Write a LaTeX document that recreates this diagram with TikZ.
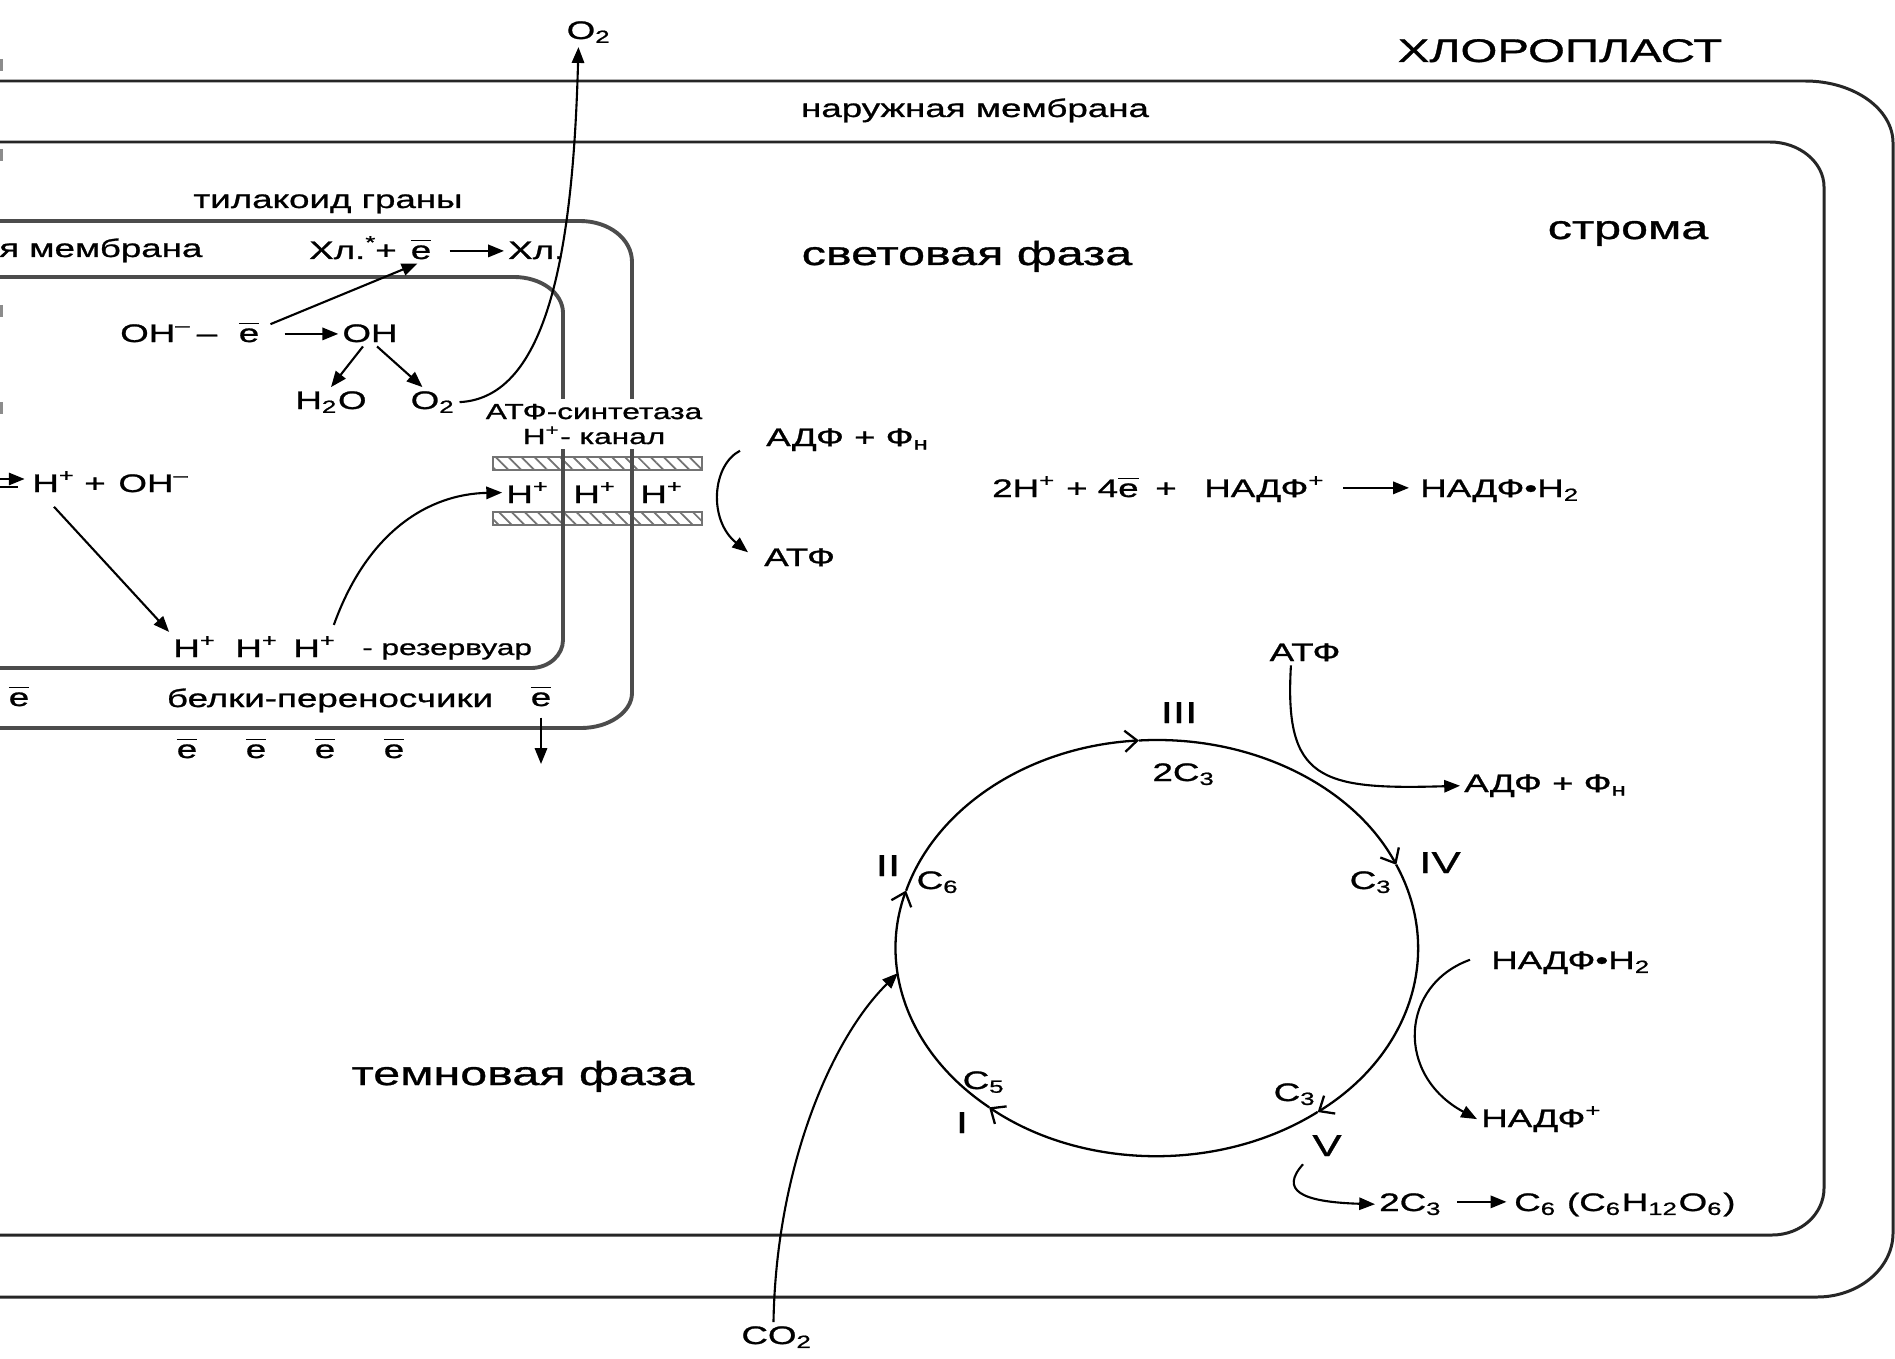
\documentclass[tikz,border=0pt]{standalone}
\usepackage{fontspec}
\setmainfont{Liberation Sans}[FakeStretch=1.45, FakeBold=1]
\usetikzlibrary{arrows.meta,patterns.meta}
\newcommand\el{\ensuremath{\overline{\mbox{e}}}}
\newcommand\sps[1]{\textsuperscript{#1}}
\newcommand\sbs[1]{\textsubscript{#1}}
\begin{document}
\begin{tikzpicture}[x=0.01cm,y=-0.01cm,
  tL/.style={font=\fontsize{9.5}{11}\selectfont, inner sep=1pt},
  tM/.style={font=\fontsize{7.2}{8.6}\selectfont, inner sep=1pt},
  tS/.style={font=\fontsize{6.2}{7.4}\selectfont, inner sep=1pt},
  tR/.style={font=\fontsize{8.6}{10}\selectfont, inner sep=1pt},
  mem/.style={line width=0.85pt, black!85},
  thy/.style={line width=1.1pt, black!70},
  rx/.style={line width=0.6pt, -{Triangle[length=4.5pt,width=3.5pt]}},
  cyc/.style={line width=0.65pt, -{Straight Barb[length=3.5pt,width=6pt]}},
  bar/.style={draw=black!55, line width=0.5pt, pattern={Lines[angle=-45,distance=2.6pt,line width=0.5pt]}, pattern color=black!55},
  tick/.style={line width=1.3pt, black!45}
]
\useasboundingbox (0,0) rectangle (1895,1358);
\fill[white] (0,0) rectangle (1895,1358);

% left-edge fragments
\foreach \yy in {65,155,311,408} \draw[tick] (1,\yy-6) -- (1,\yy+6);

% chloroplast membranes
\draw[mem] (-20,81) -- (1805,81) .. controls (1854,81) and (1893,109) .. (1893,143)
  -- (1893,1233) .. controls (1893,1268) and (1859,1297) .. (1817,1297) -- (-20,1297);
\draw[mem] (-20,142) -- (1770,142) .. controls (1799,142) and (1824,162) .. (1824,187)
  -- (1824,1188) .. controls (1824,1214) and (1801,1235) .. (1772,1235) -- (-20,1235);

% ATP synthase bars
\draw[bar] (493,457) rectangle (702,470);
\draw[bar] (493,512) rectangle (702,525);

% thylakoid
\draw[thy] (-20,221) -- (580,221) .. controls (609,221) and (632,239) .. (632,262)
  -- (632,693) .. controls (632,712) and (609,728) .. (581,728) -- (-20,728);
\draw[thy] (-20,277) -- (514,277) .. controls (541,277) and (563,293) .. (563,313)
  -- (563,640) .. controls (563,655) and (549,668) .. (531,668) -- (-20,668);

% ATP synthase label (covers the membrane lines)
\node[tS, anchor=base, align=center, fill=white, inner sep=1.5pt] (syn) at (594,444) {АТФ-синтетаза\\[-0.3pt]H\sps{+}- канал};

% labels
\node[tL, anchor=base, font=\fontsize{9.3}{11}\selectfont] (chl) at (1560,62) {ХЛОРОПЛАСТ};
\node[tM, anchor=base] (outer) at (975,117) {наружная мембрана};
\node[tL, anchor=base] (stroma) at (1628,239) {строма};
\node[tL, anchor=base] (light) at (967,265) {световая фаза};
\node[tL, anchor=base] (dark) at (523,1085) {темновая фаза};
\node[tM, anchor=base] (granum) at (328,208) {тилакоид граны};
\node[tM, anchor=base west] (thmem) at (-5,257) {я мембрана};

% chlorophyll line
\node[tM, anchor=base west] (chla) at (305,259) {Хл.\sps{*}};
\node[tM, anchor=base] (pl1) at (386,259) {+};
\node[tM, anchor=base] (e1) at (421,259) {\el};
\node[tM, anchor=base west] (chlb) at (504,259) {Хл.};
\draw[rx] ([shift={(4pt,2.3pt)}]e1.base east) -- ([shift={(0pt,2.3pt)}]chlb.base west);

% water splitting
\node[tM, anchor=base west] (oh1) at (116,342) {OH\sps{–}};
\node[tM, anchor=base] (mn) at (207,342) {–};
\node[tM, anchor=base] (e2) at (249,342) {\el};
\node[tM, anchor=base] (oh2) at (370,342) {OH};
\draw[rx] ([shift={(6pt,2.3pt)}]e2.base east) -- ([shift={(0pt,2.3pt)}]oh2.base west);
\draw[rx] ([shift={(2pt,-2pt)}]e2.north east) -- ([xshift=-1pt]e1.south);
\node[tM, anchor=base] (h2o) at (331,409) {H\sbs{2}O};
\node[tM, anchor=base] (o2i) at (433,409) {O\sbs{2}};
\draw[rx] ([xshift=-2pt]oh2.south) -- (h2o.north);
\draw[rx] ([xshift=2pt]oh2.south) -- ([xshift=-3pt]o2i.north);
\node[tM, anchor=base] (o2top) at (589,39) {O\sbs{2}};
\draw[rx] (o2i.east) .. controls (548,398) and (573,250) .. ([xshift=-3pt]o2top.south);

% ATP synthase channel
\node[tM, anchor=base] (ch1) at (528,503) {H\sps{+}};
\node[tM, anchor=base] (ch2) at (595,503) {H\sps{+}};
\node[tM, anchor=base] (ch3) at (662,503) {H\sps{+}};
\node[tM, anchor=base west] (adf1) at (762,446) {АДФ + Ф\sbs{н}};
\node[tM, anchor=base west] (atf1) at (760,566) {АТФ};
\draw[rx] ([shift={(-22,11)}]adf1.west) .. controls (712,465) and (708,520) .. ([shift={(-12,-5)}]atf1.west);

% NADP reduction
\node[tM, anchor=base west] (f1) at (988,497) {2H\sps{+} + 4\el};
\node[tM, anchor=base] (f1p) at (1166,497) {+};
\node[tM, anchor=base west] (f1c) at (1200,497) {НАДФ\sps{+}};
\node[tM, anchor=base west] (f2) at (1416,497) {НАДФ•H\sbs{2}};
\draw[rx] ([shift={(4pt,2.6pt)}]f1c.base east) -- ([shift={(-2pt,2.6pt)}]f2.base west);

% left dissociation
\coordinate (eq1) at (-8,479);
\coordinate (eq2) at (-8,487);
\node[tM, anchor=base] (h0) at (54,492) {H\sps{+}};
\node[tM, anchor=base] (pl0) at (95,492) {+};
\node[tM, anchor=base] (oh0) at (154,492) {OH\sps{–}};
\draw[rx] (eq1) -- ([xshift=-1pt]eq1 -| h0.west);
\draw[line width=0.6pt] (eq2) -- ([xshift=-3pt]eq2 -| h0.west);

% reservoir
\node[tM, anchor=base] (r1) at (195,657) {H\sps{+}};
\node[tM, anchor=base] (r2) at (257,657) {H\sps{+}};
\node[tM, anchor=base] (r3) at (315,657) {H\sps{+}};
\node[tS, anchor=base west] (res) at (358,655) {- резервуар};
\draw[rx] ([yshift=-3pt]h0.south) -- (r1.north west);
\draw[rx] ([shift={(-2pt,2pt)}]r3.north east) .. controls (368,530) and (430,494) .. (ch1.west);

% electron carriers
\node[tM, anchor=base] (eL) at (19,706) {\el};
\node[tM, anchor=base] (carr) at (330,707) {белки-переносчики};
\node[tM, anchor=base] (eR) at (541,706) {\el};
\coordinate (edn) at (541,764);
\draw[rx] ([yshift=-2pt]eR.south) -- (edn);
\node[tM, anchor=base] (eb1) at (187,758) {\el};
\node[tM, anchor=base] (eb2) at (256,758) {\el};
\node[tM, anchor=base] (eb3) at (325,758) {\el};
\node[tM, anchor=base] (eb4) at (394,758) {\el};

% Calvin cycle
\coordinate (cI) at (989.2,1107.3);
\coordinate (cII) at (906.1,890.7);
\coordinate (cIII) at (1138.8,740.5);
\coordinate (cIV) at (1396.2,864.7);
\coordinate (cV) at (1317.7,1111.9);
\draw[cyc] (cII) arc[start angle=164, end angle=94, x radius=2.61cm, y radius=2.08cm];
\draw[cyc] (cIII) arc[start angle=94, end angle=23.6, x radius=2.61cm, y radius=2.08cm];
\draw[cyc] (cIV) arc[start angle=23.6, end angle=-52, x radius=2.61cm, y radius=2.08cm];
\draw[cyc] (cV) arc[start angle=-52, end angle=-130, x radius=2.61cm, y radius=2.08cm];
\draw[cyc] (cI) arc[start angle=-130, end angle=-196, x radius=2.61cm, y radius=2.08cm];

\node[tR, anchor=base] (nII) at (888,876) {II};
\node[tM, anchor=base] (c6) at (938,889) {C\sbs{6}};
\node[tR, anchor=base] (nIII) at (1179,723) {III};
\node[tM, anchor=base] (c3a) at (1184,781) {2C\sbs{3}};
\node[tR, anchor=base] (nIV) at (1440,873) {IV};
\node[tM, anchor=base] (c3b) at (1371,889) {C\sbs{3}};
\node[tR, anchor=base] (nV) at (1327,1156) {V};
\node[tM, anchor=base] (c3c) at (1295,1101) {C\sbs{3}};
\node[tR, anchor=base] (nI) at (962,1133) {I};
\node[tM, anchor=base] (c5) at (984,1089) {C\sbs{5}};

\node[tM, anchor=base] (atf2) at (1305,661) {АТФ};
\node[tM, anchor=base west] (adf2) at (1460,792) {АДФ + Ф\sbs{н}};
\draw[rx] ([xshift=-4pt]atf2.south) .. controls (1284,780) and (1320,790) .. (adf2.west);

\node[tM, anchor=base west] (nadph) at (1487,969) {НАДФ•H\sbs{2}};
\node[tM, anchor=base west] (nadp) at (1477,1127) {НАДФ\sps{+}};
\draw[rx] ([shift={(-17,-3)}]nadph.west) .. controls (1400,985) and (1395,1075) .. (nadp.west);

\node[tM, anchor=base west] (g1) at (1375,1211) {2C\sbs{3}};
\node[tM, anchor=base west] (g2) at (1510,1211) {C\sbs{6} (C\sbs{6}H\sbs{12}O\sbs{6})};
\draw[rx] ([shift={(3pt,2.6pt)}]g1.base east) -- ([shift={(-1pt,2.6pt)}]g2.base west);
\draw[rx] ([shift={(-24,4)}]nV.south) .. controls (1280,1190) and (1300,1202) .. (g1.west);

\node[tM, anchor=base] (co2) at (777,1344) {CO\sbs{2}};
\coordinate (cCO) at (898,973);
\draw[rx] ([xshift=-1pt]co2.north) .. controls (776,1170) and (830,1040) .. (cCO);
\end{tikzpicture}
\end{document}
